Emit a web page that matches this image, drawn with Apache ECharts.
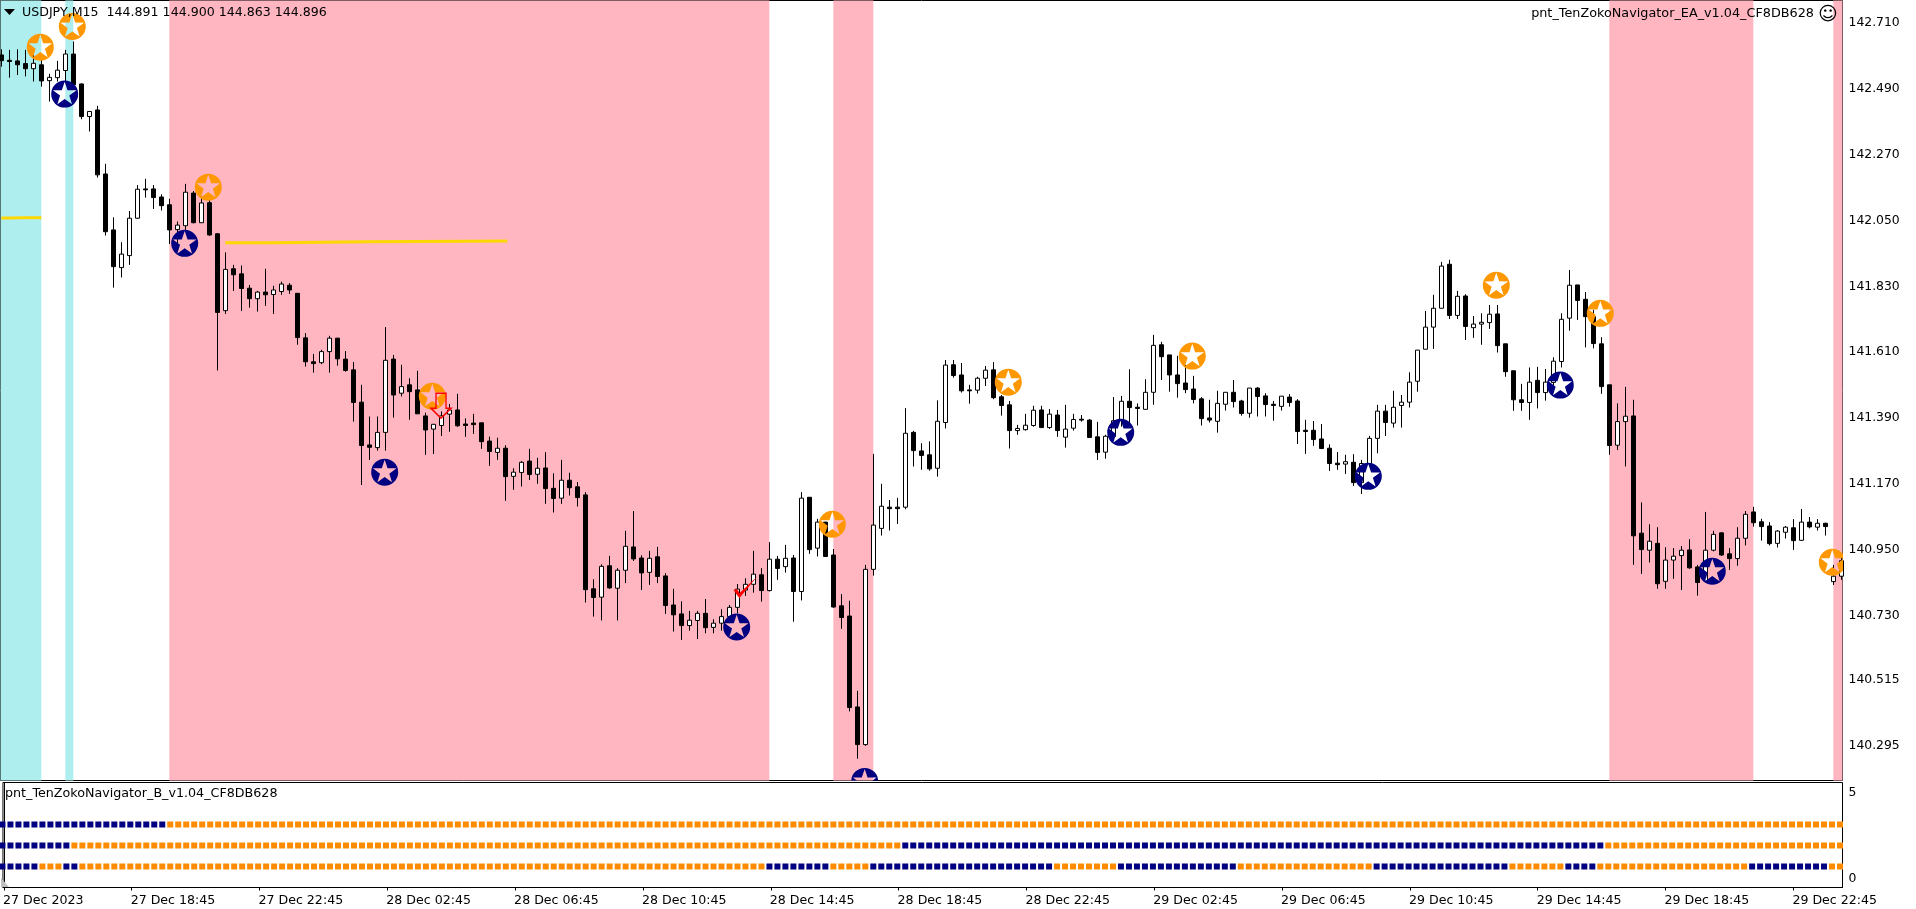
<!DOCTYPE html>
<html><head><meta charset="utf-8">
<style>html,body{margin:0;padding:0;background:#fff}#c{width:1916px;height:909px}</style>
<script src="https://cdn.jsdelivr.net/npm/echarts@6/dist/echarts.min.js"></script>
</head><body><div id="c"></div>
<script>
const opens=[142.604,142.586,142.584,142.575,142.558,142.571,142.518,142.528,142.552,142.607,
142.507,142.398,142.420,142.206,142.019,141.893,141.933,142.058,142.156,142.156,
142.129,142.103,142.020,142.033,142.142,142.043,142.110,142.006,141.749,141.889,
141.872,141.824,141.789,141.811,141.803,141.813,141.834,141.807,141.658,141.578,
141.575,141.612,141.657,141.587,141.551,141.443,141.300,141.291,141.342,141.587,
141.473,141.501,141.484,141.397,141.353,141.365,141.403,141.417,141.370,141.373,
141.374,141.313,141.275,141.289,141.195,141.208,141.246,141.202,141.223,141.155,
141.122,141.182,141.160,141.133,140.819,140.791,140.896,140.821,140.881,140.959,
140.922,140.874,140.926,140.862,140.765,140.735,140.696,140.713,140.737,140.690,
140.704,140.726,140.757,140.815,140.834,140.866,140.813,140.918,140.893,140.922,
140.810,141.125,140.955,141.042,140.932,140.762,140.728,140.424,140.298,140.884,
141.021,141.092,141.092,141.092,141.342,141.280,141.267,141.222,141.375,141.568,
141.534,141.484,141.483,141.523,141.551,141.461,141.434,141.348,141.351,141.365,
141.417,141.358,141.400,141.326,141.356,141.386,141.383,141.327,141.276,141.328,
141.381,141.446,141.426,141.419,141.476,141.635,141.601,141.534,141.507,141.487,
141.454,141.390,141.379,141.436,141.476,141.447,141.406,141.490,141.464,141.436,
141.429,141.460,141.447,141.349,141.349,141.320,141.289,141.239,141.236,141.242,
141.174,141.237,141.322,141.413,141.373,141.432,141.443,141.513,141.620,141.694,
141.757,141.904,141.733,141.798,141.692,141.704,141.709,141.738,141.638,141.548,
141.451,141.442,141.516,141.475,141.509,141.579,141.724,141.835,141.787,141.729,
141.638,141.501,141.299,141.378,141.397,141.005,140.948,140.971,140.844,140.915,
140.930,140.949,140.892,140.845,140.948,141.006,140.936,140.920,140.988,141.076,
141.043,141.029,140.971,141.008,141.023,140.981,141.042,141.025,141.038,140.843,140.861];
const closes=[142.585,142.582,142.571,142.558,142.576,142.517,142.529,142.553,142.607,142.504,
142.398,142.415,142.203,142.013,141.896,141.938,142.058,142.155,142.153,142.127,
142.100,142.019,142.035,142.145,142.043,142.109,142.002,141.743,141.887,141.869,
141.823,141.789,141.811,141.802,141.818,141.838,141.818,141.659,141.578,141.572,
141.612,141.657,141.588,141.549,141.442,141.298,141.292,141.342,141.583,141.467,
141.495,141.478,141.404,141.350,141.369,141.397,141.417,141.364,141.365,141.368,
141.311,141.278,141.289,141.194,141.209,141.242,141.201,141.222,141.154,141.121,
141.182,141.157,141.124,140.816,140.790,140.894,140.822,140.881,140.961,140.919,
140.872,140.921,140.860,140.763,140.732,140.696,140.714,140.737,140.689,140.704,
140.726,140.757,140.818,140.834,140.868,140.813,140.918,140.887,140.921,140.810,
141.122,140.950,141.042,140.927,140.758,140.723,140.422,140.298,140.884,141.032,
141.095,141.087,141.087,141.339,141.281,141.265,141.220,141.379,141.567,141.532,
141.481,141.481,141.523,141.550,141.458,141.432,141.348,141.355,141.366,141.416,
141.358,141.403,141.348,141.353,141.385,141.383,141.325,141.275,141.329,141.381,
141.446,141.425,141.422,141.476,141.633,141.595,141.534,141.505,141.485,141.452,
141.388,141.383,141.439,141.476,141.445,141.405,141.490,141.462,141.435,141.432,
141.463,141.442,141.345,141.345,141.318,141.288,141.238,141.234,141.244,141.174,
141.238,141.322,141.413,141.375,141.426,141.443,141.510,141.617,141.694,141.757,
141.898,141.733,141.797,141.696,141.704,141.710,141.737,141.632,141.545,141.451,
141.442,141.510,141.475,141.510,141.580,141.720,141.834,141.783,141.729,141.639,
141.495,141.298,141.378,141.396,140.996,140.950,140.978,140.836,140.915,140.928,
140.948,140.889,140.840,140.948,141.001,140.932,140.920,140.988,141.068,141.040,
141.027,140.970,141.012,141.025,140.980,141.042,141.026,141.038,141.027,140.861,140.913];
const highs=[142.623,142.621,142.623,142.621,142.604,142.593,142.541,142.584,142.621,142.649,
142.509,142.415,142.434,142.240,142.061,141.978,142.082,142.169,142.190,142.169,
142.138,142.123,142.047,142.173,142.149,142.130,142.119,142.008,141.944,141.902,
141.900,141.835,141.815,141.889,141.832,141.846,141.841,141.807,141.674,141.604,
141.618,141.665,141.658,141.614,141.577,141.501,141.395,141.395,141.694,141.601,
141.568,141.523,141.548,141.408,141.369,141.412,141.437,141.471,141.389,141.404,
141.374,141.328,141.324,141.299,141.222,141.246,141.287,141.257,141.276,141.205,
141.250,141.207,141.176,141.142,140.851,140.901,140.929,140.888,141.013,141.079,
140.931,140.946,140.959,140.871,140.819,140.777,140.745,140.745,140.785,140.717,
140.751,140.765,140.835,140.854,140.946,140.888,140.975,140.929,140.966,140.932,
141.142,141.125,141.053,141.042,140.952,140.801,140.779,140.478,140.899,141.270,
141.170,141.116,141.123,141.423,141.347,141.306,141.312,141.449,141.584,141.584,
141.574,141.501,141.528,141.564,141.577,141.467,141.447,141.367,141.404,141.431,
141.431,141.420,141.417,141.434,141.404,141.400,141.386,141.377,141.334,141.460,
141.464,141.553,141.439,141.520,141.668,141.645,141.601,141.598,141.568,141.531,
141.460,141.451,141.481,141.476,141.517,141.451,141.490,141.493,141.473,141.447,
141.463,141.470,141.453,141.384,141.380,141.370,141.302,141.276,141.267,141.269,
141.250,141.330,141.434,141.434,141.481,141.467,141.543,141.617,141.748,141.802,
141.912,141.919,141.815,141.804,141.731,141.740,141.768,141.768,141.638,141.548,
141.504,141.559,141.561,141.554,141.593,141.740,141.885,141.835,141.811,141.752,
141.660,141.501,141.439,141.494,141.451,141.108,141.035,141.025,140.958,140.955,
140.962,140.985,140.899,141.076,141.013,141.008,140.955,141.025,141.079,141.093,
141.053,141.042,141.015,141.029,141.052,141.086,141.059,141.052,141.040,140.899,140.938];
const lows=[142.565,142.528,142.537,142.532,142.515,142.498,142.448,142.515,142.515,142.504,
142.389,142.348,142.194,142.000,141.826,141.860,141.902,142.056,142.127,142.089,
142.084,141.972,141.974,142.019,142.041,142.043,141.999,141.549,141.738,141.815,
141.748,141.759,141.746,141.765,141.738,141.802,141.805,141.635,141.562,141.542,
141.570,141.542,141.565,141.545,141.378,141.166,141.250,141.281,141.281,141.391,
141.462,141.384,141.404,141.267,141.270,141.330,141.344,141.361,141.327,141.337,
141.287,141.230,141.250,141.113,141.150,141.161,141.183,141.170,141.103,141.074,
141.103,141.131,141.094,140.773,140.726,140.713,140.819,140.713,140.838,140.912,
140.815,140.832,140.838,140.735,140.676,140.648,140.679,140.651,140.670,140.670,
140.679,140.704,140.737,140.795,140.806,140.776,140.810,140.849,140.873,140.709,
140.780,140.936,140.927,140.927,140.756,140.685,140.409,140.251,140.294,140.863,
140.997,141.014,141.036,141.085,141.228,141.217,141.214,141.194,141.355,141.525,
141.475,141.438,141.472,141.497,141.453,141.398,141.288,141.334,141.348,141.361,
141.358,141.354,141.327,141.291,141.348,141.378,141.325,141.250,141.254,141.317,
141.361,141.373,141.365,141.419,141.434,141.517,141.478,141.458,141.473,141.439,
141.365,141.375,141.341,141.415,141.425,141.398,141.391,141.395,141.395,141.381,
141.415,141.428,141.303,141.270,141.297,141.286,141.213,141.217,141.203,141.163,
141.136,141.228,141.272,141.330,141.358,141.358,141.425,141.478,141.620,141.621,
141.757,141.721,141.721,141.651,141.658,141.635,141.688,141.609,141.528,141.414,
141.414,141.384,141.422,141.448,141.495,141.559,141.682,141.718,141.626,141.623,
141.471,141.267,141.283,141.228,140.899,140.869,140.907,140.819,140.819,140.852,
140.815,140.886,140.796,140.843,140.944,140.929,140.882,140.896,140.964,141.027,
140.980,140.964,140.957,140.987,140.949,140.980,141.021,141.014,140.997,140.832,140.849];

const priceTicks=[142.710,142.490,142.270,142.050,141.830,141.610,141.390,141.170,140.950,140.730,140.515,140.295];
const timeTickBars=[0,16,32,48,64,80,96,112,128,144,160,176,192,208,224];
const timeLabels=['27 Dec 2023','27 Dec 18:45','27 Dec 22:45','28 Dec 02:45','28 Dec 06:45','28 Dec 10:45','28 Dec 14:45','28 Dec 18:45','28 Dec 22:45','29 Dec 02:45','29 Dec 06:45','29 Dec 10:45','29 Dec 14:45','29 Dec 18:45','29 Dec 22:45'];

const cyanBands=[[-0.104,5],[8,9]];
const pinkBands=[[21,96],[104,109],[201,219],[229,230.146]];
const goldLeft=[[0,142.059],[2.5,142.060],[5,142.060]];
const goldRight=[[28,141.976],[34,141.979],[46,141.982],[63.25,141.984]];
const orangeStars=[[4.87,142.630],[8.87,142.699],[25.87,142.162],[53.87,141.463],[103.87,141.035],[125.87,141.510],[148.87,141.597],[186.87,141.834],[199.87,141.740],[228.87,140.908]];
const navyStars=[[7.92,142.473],[22.92,141.974],[47.92,141.209],[91.92,140.691],[107.92,140.175],[139.92,141.342],[170.87,141.195],[194.87,141.500],[213.87,140.878]];
const arrowMark=[[54.96,141.431]];
const checkMark=[[93.0,140.824]];

const barCount=231;
const row3Navy=[[0,20]];
const row2Navy=[[0,8],[113,200]];
const row1Navy=[[0,4],[8,9],[96,103],[109,131],[140,154],[172,188],[196,199],[219,228]];

const candleData=opens.map((o,i)=>[i,o,closes[i],lows[i],highs[i]]);
function rowPoints(runs,level){
  const navy=[],orange=[];
  for(let i=0;i<barCount;i++){
    (runs.some(r=>i>=r[0]&&i<=r[1])?navy:orange).push([i,level]);
  }
  return {navy,orange};
}
const rows=[rowPoints(row3Navy,3),rowPoints(row2Navy,2),rowPoints(row1Navy,1)];
const navySquares=rows.flatMap(r=>r.navy), orangeSquares=rows.flatMap(r=>r.orange);

const STAR_D='M50 0A50 50 0 1 1 50 100A50 50 0 1 1 50 0ZM50 4L39.4 35.4L6.3 35.8L32.9 55.6L22.9 87.2L50 68L77.1 87.2L67.1 55.6L93.7 35.8L60.6 35.4Z';
const FONT='"DejaVu Sans"';
const band=(b)=>[{xAxis:b[0]},{xAxis:b[1]}];
const txt=(text,x,y,align,size)=>({type:'text',z:100,silent:true,x,y,style:{text,fill:'#000',font:(size||12.6)+'px '+FONT,textAlign:align||'left',textVerticalAlign:'middle'}});
const starSeries=(name,data,color)=>({type:'custom',name,xAxisIndex:0,yAxisIndex:0,data,z:7,clip:true,silent:true,
  encode:{x:0,y:1},itemStyle:{color},
  renderItem:(params,api)=>{
    const c=api.coord([api.value(0),api.value(1)]);
    return {type:'path',shape:{pathData:STAR_D,x:c[0]-13.5,y:c[1]-13.5,width:27,height:27,layout:'cover'},style:{fill:color}};
  }});

const chart=echarts.init(document.getElementById('c'),null,{renderer:'canvas'});
chart.setOption({
 animation:false,backgroundColor:'#fff',
 grid:[
  {left:0.5,top:0.5,width:1842,height:780,show:true,borderColor:'#000',borderWidth:1,backgroundColor:'transparent'},
  {left:0.5,top:782.5,width:1842,height:105,show:true,borderColor:'#000',borderWidth:1,backgroundColor:'transparent'}
 ],
 xAxis:[
  {gridIndex:0,type:'value',min:-0.104,max:230.146,show:false,splitLine:{show:false}},
  {gridIndex:1,type:'value',min:-0.104,max:230.146,position:'bottom',splitLine:{show:false},
   axisLine:{show:true,lineStyle:{color:'#000'}},
   axisTick:{show:true,length:3,customValues:timeTickBars,lineStyle:{color:'#000'}},
   axisLabel:{show:true,customValues:timeTickBars.map(b=>Math.max(-0.1,b-0.125)),align:'left',margin:7,color:'#000',fontFamily:FONT,fontSize:12.6,
     formatter:v=>timeLabels[Math.round(v/16)]}}
 ],
 yAxis:[
  {gridIndex:0,type:'value',position:'right',min:140.178,max:142.786,splitLine:{show:false},
   axisLine:{show:true,lineStyle:{color:'#000'}},
   axisTick:{show:true,length:4,customValues:priceTicks,lineStyle:{color:'#000'}},
   axisLabel:{show:true,customValues:priceTicks,margin:6,color:'#000',fontFamily:FONT,fontSize:12.4,formatter:v=>v.toFixed(3)}},
  {gridIndex:1,type:'value',position:'right',min:0,max:5,interval:5,splitLine:{show:false},
   axisLine:{show:true,lineStyle:{color:'#000'}},
   axisTick:{show:true,length:4,lineStyle:{color:'#000'}},
   axisLabel:{show:true,margin:6,color:'#000',fontFamily:FONT,fontSize:12.4,verticalAlignMaxLabel:'top',verticalAlignMinLabel:'bottom',padding:[4,0,3,0]}}
 ],
 series:[
  {type:'line',name:'bands',xAxisIndex:0,yAxisIndex:0,data:[],z:1,silent:true,
   markArea:{silent:true,z:1,animation:false,data:[
     ...cyanBands.map(b=>{const a=band(b);a[0].itemStyle={color:'#AFEEEE',opacity:1};return a;}),
     ...pinkBands.map(b=>{const a=band(b);a[0].itemStyle={color:'#FFB6C1',opacity:1};return a;})
   ]}},
  {type:'candlestick',name:'USDJPY',xAxisIndex:0,yAxisIndex:0,data:candleData,z:5,barWidth:4,clip:true,
   itemStyle:{color:'#fff',color0:'#000',borderColor:'#000',borderColor0:'#000',borderColorDoji:'#000',borderWidth:1}},
  {type:'line',name:'goldLeft',xAxisIndex:0,yAxisIndex:0,data:goldLeft,z:6,symbol:'none',step:'middle',lineStyle:{color:'#FFD700',width:3}},
  {type:'line',name:'goldRight',xAxisIndex:0,yAxisIndex:0,data:goldRight,z:6,symbol:'none',step:'end',lineStyle:{color:'#FFD700',width:3}},
  starSeries('orangeStars',orangeStars,'#FF9800'),
  starSeries('navyStars',navyStars,'#000080'),
  {type:'scatter',name:'arrow',xAxisIndex:0,yAxisIndex:0,data:arrowMark,z:8,symbol:'path://M5 0L15 0L15 15L20 15L10 25L0 15L5 15Z',symbolSize:[20,25],
   itemStyle:{color:'rgba(0,0,0,0)',borderColor:'#FF0000',borderWidth:1.5,opacity:1}},
  {type:'scatter',name:'check',xAxisIndex:0,yAxisIndex:0,data:checkMark,z:8,symbol:'path://M0 40L13 38L18 50L72 0L18 65Z',symbolSize:[24,22],itemStyle:{color:'#FF0000',opacity:1}},
  {type:'scatter',name:'orangeSquares',xAxisIndex:1,yAxisIndex:1,data:orangeSquares,symbol:'rect',symbolSize:[6,6],symbolOffset:[-1.33,0],itemStyle:{color:'#FF8C00',opacity:1},z:3},
  {type:'scatter',name:'navySquares',xAxisIndex:1,yAxisIndex:1,data:navySquares,symbol:'rect',symbolSize:[6,6],symbolOffset:[-1.33,0],itemStyle:{color:'#000080',opacity:1},z:3}
 ],
 graphic:[
  {type:'polygon',z:100,silent:true,shape:{points:[[4,9],[15,9],[9.5,15]]},style:{fill:'#000'}},
  {type:'polygon',z:100,silent:true,shape:{points:[[1,878],[1,887],[9,887]]},style:{fill:'#C0C0C0'}},
  txt('USDJPY,M15  144.891 144.900 144.863 144.896',22,13),
  txt('pnt_TenZokoNavigator_EA_v1.04_CF8DB628',1814,14,'right',12.8),
  txt('☺',1828,15,'center',19),
  txt('pnt_TenZokoNavigator_B_v1.04_CF8DB628',5,794,'left',12.7)
 ]
});
</script></body></html>
